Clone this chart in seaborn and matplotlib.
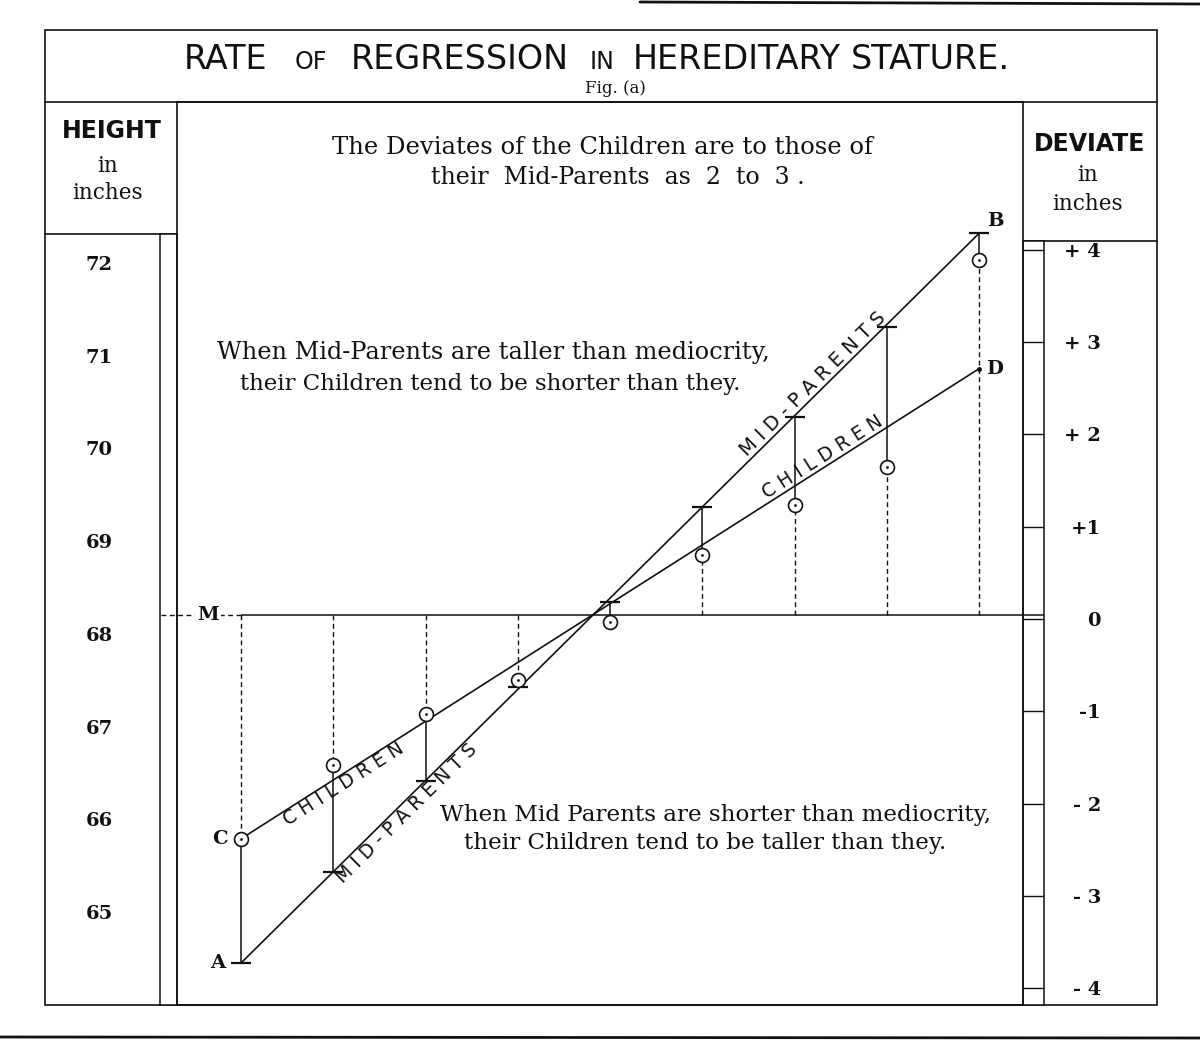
"""Galton's rate of regression in hereditary stature, redrawn."""

import matplotlib

matplotlib.use("Agg")
import matplotlib.pyplot as plt
import numpy as np
import seaborn as sns
from matplotlib.patches import Rectangle

# mid-parent deviate of each column, inches from mediocrity
MID_DEVIATE = [-4, -3, -2, -1, 0, 1, 2, 3, 4]
# heights, inches
MID_PARENT_HEIGHT = [64.45, 65.43, 66.41, 67.43, 68.34, 69.37, 70.34, 71.31, 72.32]
CHILD_HEIGHT = [65.79, 66.59, 67.14, 67.50, 68.13, 68.85, 69.39, 69.80, 72.03]
# ends of the two straight lines (A-B and C-D)
PARENT_LINE = [64.45, 72.32]
CHILD_LINE = [65.79, 70.86]
MEDIOCRITY = 68.2

HEIGHT_TICKS = [65, 66, 67, 68, 69, 70, 71, 72]
DEVIATE_TICKS = [-4, -3, -2, -1, 0, 1, 2, 3, 4]
DEVIATE_LABELS = ["- 4", "- 3", "- 2", "-1", "0", "+1", "+ 2", "+ 3", "+ 4"]

W, H = 1200, 1042
INK = "#111111"
SANS = "DejaVu Sans"
SERIF = "DejaVu Serif"


def rect(x0, y0, x1, y1):
    """Pixel box (top-left origin) -> figure fraction rect."""
    return [x0 / W, 1 - y1 / H, (x1 - x0) / W, (y1 - y0) / H]


sns.set_style("white")
plt.rcParams["font.family"] = [SERIF, SANS]

fig = plt.figure(figsize=(W / 100, H / 100), dpi=100)

# page layer in pixel units, for the frame and the printed captions
page = fig.add_axes([0, 0, 1, 1])
page.set_xlim(0, W)
page.set_ylim(H, 0)
page.axis("off")

page.add_patch(Rectangle((45, 30), 1112, 975, fill=False, ec=INK, lw=1.2))
page.plot([45, 1157], [102, 102], color=INK, lw=1.2)
page.plot([45, 177], [234, 234], color=INK, lw=1.2)
page.plot([1023, 1157], [241, 241], color=INK, lw=1.2)
# scan edges
page.plot([640, 1200], [2, 4], color=INK, lw=2)
page.plot([0, 1200], [1037, 1038], color=INK, lw=2)

title_parts = [
    (184, "RATE", 24),
    (295, "OF", 17),
    (351, "REGRESSION", 24),
    (590, "IN", 17),
    (633, "HEREDITARY", 24),
    (851, "STATURE.", 24),
]
for x, word, size in title_parts:
    page.text(x, 69, word, family=SANS, fontsize=size, color=INK, ha="left", va="baseline")
page.text(615, 93, "Fig. (a)", fontsize=12, color=INK, ha="center", va="baseline")

page.text(112, 131, "HEIGHT", family=SANS, fontweight="bold", fontsize=17, color=INK, ha="center", va="center")
page.text(108, 166, "in", fontsize=15.5, color=INK, ha="center", va="center")
page.text(108, 193, "inches", fontsize=15.5, color=INK, ha="center", va="center")
page.text(1090, 144, "DEVIATE", family=SANS, fontweight="bold", fontsize=17, color=INK, ha="center", va="center")
page.text(1088, 175, "in", fontsize=15.5, color=INK, ha="center", va="center")
page.text(1088, 204, "inches", fontsize=15.5, color=INK, ha="center", va="center")

body = dict(color=INK, ha="center", va="center")
page.text(602, 147, "The Deviates of the Children are to those of", fontsize=17.5, **body)
page.text(618, 178, "their  Mid-Parents  as  2  to  3 .", fontsize=17, **body)
page.text(493, 352, "When Mid-Parents are taller than mediocrity,", fontsize=17.3, **body)
page.text(490, 384, "their Children tend to be shorter than they.", fontsize=16.5, **body)
page.text(715, 815, "When Mid Parents are shorter than mediocrity,", fontsize=16.6, **body)
page.text(705, 843, "their Children tend to be taller than they.", fontsize=16.6, **body)

# height scale strip on the left
left = fig.add_axes(rect(160, 234, 177, 1005))
left.set_ylim(63.997, 72.313)
left.set_xticks([])
left.set_yticks(HEIGHT_TICKS)
left.set_yticklabels([str(t) for t in HEIGHT_TICKS], fontweight="bold", fontsize=14, color=INK)
left.tick_params(axis="y", direction="in", length=12.3, width=1.0, color=INK, pad=34)
for s in left.spines.values():
    s.set_color(INK)
    s.set_linewidth(1.1)

# deviate scale strip on the right
right = fig.add_axes(rect(1023, 241, 1044, 1005))
right.set_ylim(-4.182, 4.095)
right.set_xticks([])
right.set_yticks(DEVIATE_TICKS)
right.set_yticklabels(DEVIATE_LABELS, fontweight="bold", fontsize=14, color=INK)
right.tick_params(axis="y", direction="in", length=15, width=1.0, color=INK,
                  left=True, right=False, labelleft=False, labelright=True, pad=41)
for lab in right.get_yticklabels():
    lab.set_horizontalalignment("right")
for s in right.spines.values():
    s.set_color(INK)
    s.set_linewidth(1.1)

# main diagram
ax = fig.add_axes(rect(177, 102, 1023, 1005))
ax.set_xlim(-4.694, 4.477)
ax.set_ylim(63.997, 73.737)
ax.set_xticks([])
ax.set_yticks([])
for s in ax.spines.values():
    s.set_color(INK)
    s.set_linewidth(1.2)
ax.patch.set_alpha(0)

x0, x1 = ax.get_xlim()
px = (x1 - x0) / 846  # data units per pixel along x
dash = (0, (3.5, 2.5))

# mediocrity line M, running on through the right strip
ax.hlines(MEDIOCRITY, MID_DEVIATE[0], x1 + 21 * px, color=INK, lw=1.1, clip_on=False)
ax.hlines(MEDIOCRITY, x0 - 16 * px, MID_DEVIATE[0], color=INK, lw=1.0, linestyles=dash, clip_on=False)
ax.text(MID_DEVIATE[0] - 33 * px, MEDIOCRITY, "M", fontsize=14, fontweight="bold", color=INK,
        ha="center", va="center", bbox=dict(fc="white", ec="none", pad=1.5), zorder=5)

# verticals: dashed from M to child, solid from child to mid-parent
ax.vlines(MID_DEVIATE, MEDIOCRITY, CHILD_HEIGHT, color=INK, lw=1.0, linestyles=dash)
ax.vlines(MID_DEVIATE, CHILD_HEIGHT, MID_PARENT_HEIGHT, color=INK, lw=1.1)

ends = [MID_DEVIATE[0], MID_DEVIATE[-1]]
sns.lineplot(x=ends, y=PARENT_LINE, ax=ax, color=INK, lw=1.2, estimator=None, sort=False)
sns.lineplot(x=ends, y=CHILD_LINE, ax=ax, color=INK, lw=1.2, estimator=None, sort=False)

sns.scatterplot(x=MID_DEVIATE, y=MID_PARENT_HEIGHT, ax=ax, marker="_", s=190,
                color=INK, linewidth=1.6, zorder=4)
sns.scatterplot(x=MID_DEVIATE, y=CHILD_HEIGHT, ax=ax, marker="o", s=100,
                facecolor="white", edgecolor=INK, linewidth=1.2, zorder=5)
sns.scatterplot(x=MID_DEVIATE, y=CHILD_HEIGHT, ax=ax, marker="o", s=4,
                color=INK, linewidth=0, zorder=6)
ax.plot(ends[1], CHILD_LINE[1], "o", ms=2.5, color=INK)

letter = dict(fontsize=14, fontweight="bold", color=INK, ha="center", va="center", textcoords="offset points")
ax.annotate("A", (ends[0], PARENT_LINE[0]), xytext=(-17, 0), **letter)
ax.annotate("C", (ends[0], CHILD_LINE[0]), xytext=(-15, 0), **letter)
ax.annotate("B", (ends[1], PARENT_LINE[1]), xytext=(12, 9), **letter)
ax.annotate("D", (ends[1], CHILD_LINE[1]), xytext=(11, 0), **letter)


def line_label(text, yend, xpos, above, size=13.5):
    slope = (yend[1] - yend[0]) / (ends[1] - ends[0])
    ypos = yend[0] + slope * (xpos - ends[0])
    angle = np.degrees(np.arctan2(yend[1] - yend[0], ends[1] - ends[0]))
    ax.text(xpos, ypos, text, family=SANS, fontsize=size, color=INK,
            rotation=angle, rotation_mode="anchor", transform_rotates_text=True,
            ha="center", va="bottom" if above else "top", zorder=3)


line_label("M I D - P A R E N T S", PARENT_LINE, 2.27, True, 14)
line_label("C H I L D R E N", CHILD_LINE, 2.36, True)
line_label("C H I L D R E N", CHILD_LINE, -2.94, False)
line_label("M I D - P A R E N T S", PARENT_LINE, -2.28, False)

fig.savefig("out.png", dpi=100)
